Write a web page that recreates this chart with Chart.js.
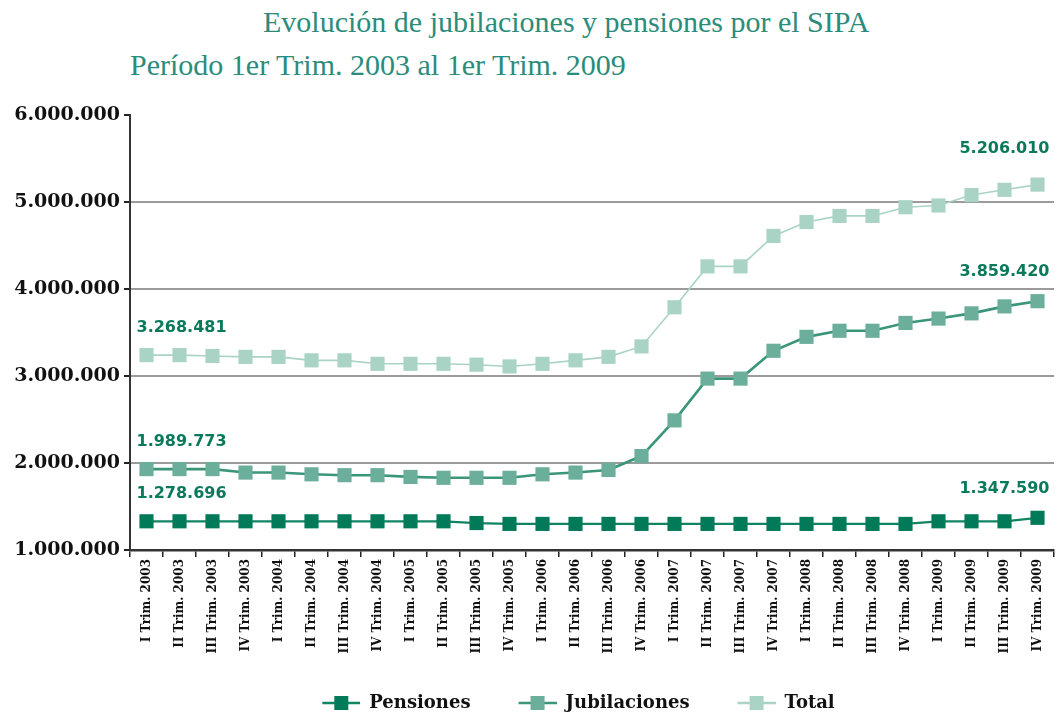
<!DOCTYPE html>
<html lang="es">
<head>
<meta charset="utf-8">
<title>Evolución de jubilaciones y pensiones por el SIPA</title>
<script src="https://cdn.jsdelivr.net/npm/chart.js@4.4.1/dist/chart.umd.min.js"></script>
<style>
  body { margin: 0; background: #fff; }
  #wrap { position: relative; width: 1064px; height: 715px; overflow: hidden; }
  .titulo { position: absolute; font-family: "Liberation Serif", serif; font-size: 30px; line-height: 1; color: #2b8c7b; white-space: nowrap; }
  #t1 { left: 263px; top: 7px; }
  #t2 { left: 130px; top: 50px; }
  canvas { position: absolute; left: 0; top: 0; }
</style>
</head>
<body>
<div id="wrap">
  <div class="titulo" id="t1">Evolución de jubilaciones y pensiones por el SIPA</div>
  <div class="titulo" id="t2">Período 1er Trim. 2003 al 1er Trim. 2009</div>
  <canvas id="grafico" width="1064" height="715"></canvas>
</div>
<script>
// ===== Datos =====
const trimestres = ["I", "II", "III", "IV"];
const anios = [2003, 2004, 2005, 2006, 2007, 2008, 2009];
const categorias = [];
anios.forEach((a) => trimestres.forEach((t) => categorias.push(`${t} Trim. ${a}`)));

const pensiones = [
  1330000, 1330000, 1330000, 1330000, 1330000, 1330000, 1330000, 1330000,
  1330000, 1330000, 1310000, 1300000, 1300000, 1300000, 1300000, 1300000,
  1300000, 1300000, 1300000, 1300000, 1300000, 1300000, 1300000, 1300000,
  1330000, 1330000, 1330000, 1370000
];
const jubilaciones = [
  1930000, 1930000, 1930000, 1890000, 1890000, 1870000, 1860000, 1860000,
  1840000, 1830000, 1830000, 1830000, 1870000, 1890000, 1920000, 2080000,
  2490000, 2970000, 2970000, 3290000, 3450000, 3520000, 3520000, 3610000,
  3660000, 3720000, 3800000, 3860000
];
const total = [
  3240000, 3240000, 3230000, 3220000, 3220000, 3180000, 3180000, 3140000,
  3140000, 3140000, 3130000, 3110000, 3140000, 3180000, 3220000, 3340000,
  3790000, 4260000, 4260000, 4610000, 4770000, 4840000, 4840000, 4940000,
  4960000, 5080000, 5140000, 5200000
];
const series = ["Pensiones", "Jubilaciones", "Total"];
const etiquetasInicio = ["1.278.696", "1.989.773", "3.268.481"];
const etiquetasFin = ["1.347.590", "3.859.420", "5.206.010"];
const ticksY = [1000000, 2000000, 3000000, 4000000, 5000000, 6000000];

// ===== Utilitarios =====
function miles(n) {
  return String(Math.round(n)).replace(/\B(?=(\d{3})+(?!\d))/g, ".");
}
// icono de leyenda: margen transparente a la izquierda + línea con cuadrado
function icono(linea, relleno) {
  const c = document.createElement("canvas");
  c.width = 61; c.height = 16;
  const g = c.getContext("2d");
  g.strokeStyle = linea; g.lineWidth = 2.5;
  g.beginPath(); g.moveTo(23, 8); g.lineTo(61, 8); g.stroke();
  g.fillStyle = relleno; g.fillRect(35, 1, 14, 14);
  return c;
}

const colLinea = ["#0f8564", "#3a9579", "#a9d3c5"];
const colPunto = ["#007a59", "#6aae9b", "#a9d3c5"];
const iconos = colLinea.map((c, i) => icono(c, colPunto[i]));

// etiquetas de valor al inicio y al final de cada serie
const etiquetasPlugin = {
  id: "etiquetas",
  afterLayout(chart) {
    // leyenda centrada bajo el área del gráfico
    if (chart.legend) {
      chart.legend.left = chart.chartArea.left - 50;
      chart.legend.right = chart.chartArea.right;
    }
  },
  afterDatasetsDraw(chart) {
    const ctx = chart.ctx;
    ctx.save();
    ctx.font = "bold 16px 'DejaVu Sans'";
    ctx.fillStyle = "#0b7a5c";
    ctx.textBaseline = "middle";
    chart.data.datasets.forEach((ds, i) => {
      const pts = chart.getDatasetMeta(i).data;
      const p0 = pts[0];
      const pN = pts[pts.length - 1];
      ctx.textAlign = "left";
      ctx.fillText(etiquetasInicio[i], p0.x - 10, p0.y - 27);
      ctx.textAlign = "right";
      ctx.fillText(etiquetasFin[i], pN.x + 12, pN.y - (i === 2 ? 36 : 29));
    });
    ctx.restore();
  }
};

const fuenteEje = { family: "DejaVu Serif", weight: "bold" };

new Chart(document.getElementById("grafico"), {
  type: "line",
  data: {
    labels: categorias,
    datasets: [pensiones, jubilaciones, total].map((d, i) => ({
      label: series[i],
      data: d,
      borderColor: colLinea[i],
      borderWidth: [2.2, 2.6, 1.6][i],
      pointStyle: "rect",
      pointRadius: 10,
      pointBorderWidth: 0,
      pointBackgroundColor: colPunto[i],
      pointBorderColor: colPunto[i],
      tension: 0,
      fill: false
    }))
  },
  options: {
    responsive: false,
    animation: false,
    layout: { padding: { top: 115, right: 9, left: 0, bottom: -7 } },
    plugins: {
      title: { display: false },
      tooltip: { enabled: false },
      legend: {
        position: "bottom",
        labels: {
          usePointStyle: true,
          pointStyleWidth: 61,
          padding: 25,
          color: "#111",
          font: { family: "DejaVu Serif", weight: "bold", size: 18 },
          generateLabels: (chart) => chart.data.datasets.map((ds, i) => ({
            text: ds.label,
            pointStyle: iconos[i],
            datasetIndex: i,
            hidden: false,
            fontColor: "#111",
            lineWidth: 0,
            strokeStyle: "rgba(0,0,0,0)",
            fillStyle: "rgba(0,0,0,0)"
          }))
        }
      }
    },
    scales: {
      x: {
        offset: true,
        ticks: {
          autoSkip: false, maxRotation: 90, minRotation: 90,
          color: "#111", padding: 2,
          font: { ...fuenteEje, size: 12 }
        },
        grid: { drawOnChartArea: false, tickLength: 7, tickColor: "#222", lineWidth: 1.5, offset: true },
        border: { color: "#333", width: 2.5 },
        afterFit: (s) => { s.height = 119; }
      },
      y: {
        min: ticksY[0],
        max: ticksY[ticksY.length - 1],
        afterBuildTicks: (s) => { s.ticks = ticksY.map((v) => ({ value: v })); },
        ticks: {
          color: "#111", padding: 4,
          font: { ...fuenteEje, size: 19 },
          callback: (v) => miles(v)
        },
        grid: {
          color: (c) => (c.tick && c.tick.value > ticksY[0] && c.tick.value < ticksY[ticksY.length - 1]) ? "#9b9b9b" : "rgba(0,0,0,0)",
          lineWidth: 2,
          tickLength: 6,
          tickColor: "#222"
        },
        border: { color: "#333", width: 2 },
        afterFit: (s) => { s.width = 130; }
      }
    }
  },
  plugins: [etiquetasPlugin]
});
</script>
</body>
</html>
